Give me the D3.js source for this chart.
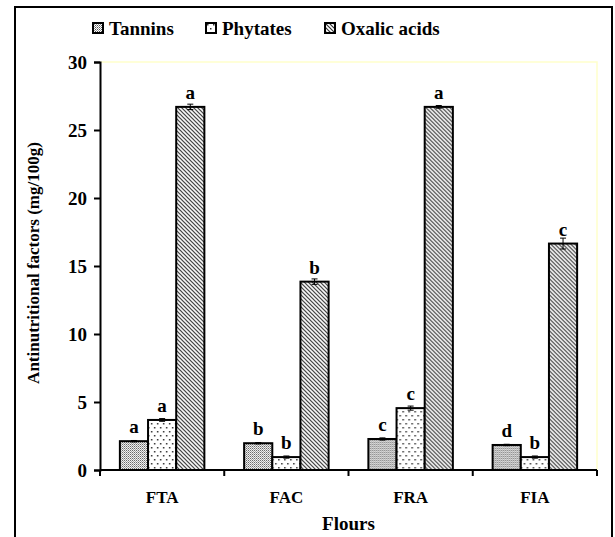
<!DOCTYPE html>
<html>
<head>
<meta charset="utf-8">
<script src="https://cdn.jsdelivr.net/npm/d3@7"></script>
<style>
  body { margin: 0; background: #fff; }
  svg text { font-family: "Times New Roman", "Liberation Serif", "DejaVu Serif", serif; font-weight: bold; fill: #000; }
</style>
</head>
<body>
<svg id="chart" width="615" height="537"></svg>
<script>
const flours = ["FTA", "FAC", "FRA", "FIA"];
const seriesNames = ["Tannins", "Phytates", "Oxalic acids"];
const tannins = [2.12, 1.97, 2.28, 1.84];
const phytates = [3.68, 0.95, 4.55, 0.95];
const oxalic = [26.7, 13.85, 26.7, 16.65];
const tanninsErr = [0.05, 0.05, 0.08, 0.05];
const phytatesErr = [0.1, 0.08, 0.15, 0.08];
const oxalicErr = [0.2, 0.2, 0.1, 0.4];
const tanninsLetters = ["a", "b", "c", "d"];
const phytatesLetters = ["a", "b", "c", "b"];
const oxalicLetters = ["a", "b", "a", "c"];
const yTicks = [0, 5, 10, 15, 20, 25, 30];

const svg = d3.select("#chart");
const margin = { left: 100, right: 18, top: 62, bottom: 67 };
const width = 615 - margin.left - margin.right;
const height = 537 - margin.top - margin.bottom;

// outer frame (bottom edge falls outside the picture)
svg.append("rect")
  .attr("x", 15).attr("y", 7)
  .attr("width", 597).attr("height", 560)
  .attr("fill", "none").attr("stroke", "#000").attr("stroke-width", 2);

// patterns
const defs = svg.append("defs");
const pDense = defs.append("pattern").attr("id", "dense")
  .attr("patternUnits", "userSpaceOnUse").attr("width", 2).attr("height", 2);
pDense.append("rect").attr("width", 2).attr("height", 2).attr("fill", "#fff");
pDense.append("rect").attr("width", 1).attr("height", 1).attr("fill", "#555");
pDense.append("rect").attr("x", 1).attr("y", 1).attr("width", 1).attr("height", 1).attr("fill", "#999");

const pSparse = defs.append("pattern").attr("id", "sparse")
  .attr("patternUnits", "userSpaceOnUse").attr("width", 6).attr("height", 8);
pSparse.append("rect").attr("width", 6).attr("height", 8).attr("fill", "#fff");
pSparse.append("rect").attr("x", 1).attr("y", 1).attr("width", 1.5).attr("height", 1.5).attr("fill", "#333");
pSparse.append("rect").attr("x", 4).attr("y", 5).attr("width", 1.5).attr("height", 1.5).attr("fill", "#333");

const pDiag = defs.append("pattern").attr("id", "diag")
  .attr("patternUnits", "userSpaceOnUse").attr("width", 4).attr("height", 4);
pDiag.append("rect").attr("width", 4).attr("height", 4).attr("fill", "#fff");
pDiag.append("path").attr("d", "M-1,-1 L5,5 M-1,3 L1,5 M3,-1 L5,1")
  .attr("stroke", "#333").attr("stroke-width", 1.2);

const fills = ["url(#dense)", "url(#sparse)", "url(#diag)"];

const g = svg.append("g").attr("transform", `translate(${margin.left},${margin.top})`);

const x0 = d3.scaleBand().domain(flours).range([0, width]).paddingInner(0.32).paddingOuter(0.16);
const x1 = d3.scaleBand().domain(seriesNames).range([0, x0.bandwidth()]);
const y = d3.scaleLinear().domain([0, 30]).range([height, 0]);

// plot area border (light yellow)
g.append("path")
  .attr("d", `M0,0 H${width} V${height}`)
  .attr("fill", "none").attr("stroke", "#ffffcc").attr("stroke-width", 1.5);

const rows = flours.map((f, i) => ({
  flour: f,
  vals: [
    { s: 0, v: tannins[i], e: tanninsErr[i], l: tanninsLetters[i] },
    { s: 1, v: phytates[i], e: phytatesErr[i], l: phytatesLetters[i] },
    { s: 2, v: oxalic[i], e: oxalicErr[i], l: oxalicLetters[i] }
  ]
}));

const grp = g.selectAll(".grp").data(rows).join("g")
  .attr("transform", d => `translate(${x0(d.flour)},0)`);

grp.selectAll("rect").data(d => d.vals).join("rect")
  .attr("x", d => x1(seriesNames[d.s]))
  .attr("y", d => y(d.v))
  .attr("width", x1.bandwidth())
  .attr("height", d => y(0) - y(d.v))
  .attr("fill", d => fills[d.s])
  .attr("stroke", "#000").attr("stroke-width", 2);

// error bars
grp.selectAll(".err").data(d => d.vals).join("path")
  .attr("class", "err")
  .attr("d", d => {
    const cx = x1(seriesNames[d.s]) + x1.bandwidth() / 2;
    const t = y(d.v + d.e), b = y(d.v - d.e);
    return `M${cx},${t} V${b} M${cx - 3},${t} H${cx + 3} M${cx - 3},${b} H${cx + 3}`;
  })
  .attr("stroke", "#000").attr("stroke-width", 1).attr("fill", "none");

// letters
grp.selectAll(".lbl").data(d => d.vals).join("text")
  .attr("class", "lbl")
  .attr("x", d => x1(seriesNames[d.s]) + x1.bandwidth() / 2)
  .attr("y", d => y(d.v) - 8)
  .attr("text-anchor", "middle")
  .attr("font-size", 19)
  .text(d => d.l);

// y axis
const yAxis = g.append("g").call(d3.axisLeft(y).tickValues(yTicks).tickSize(6).tickPadding(7));
yAxis.attr("font-family", null);
yAxis.selectAll("text").attr("font-size", 19);
yAxis.select(".domain").attr("stroke-width", 2);
yAxis.selectAll(".tick line").attr("stroke-width", 2);

// x axis
const xAxis = g.append("g").attr("transform", `translate(0,${height})`);
xAxis.append("line").attr("x1", 0).attr("x2", width).attr("stroke", "#000").attr("stroke-width", 2);
const bounds = d3.range(flours.length + 1).map(i => i * x0.step());
xAxis.selectAll(".xt").data(bounds).join("line")
  .attr("x1", d => d).attr("x2", d => d).attr("y1", 0).attr("y2", 6)
  .attr("stroke", "#000").attr("stroke-width", 2);
xAxis.selectAll(".xl").data(flours).join("text")
  .attr("x", d => x0(d) + x0.bandwidth() / 2)
  .attr("y", 33)
  .attr("text-anchor", "middle").attr("font-size", 17)
  .text(d => d);

// axis titles
svg.append("text")
  .attr("x", margin.left + width / 2).attr("y", 530)
  .attr("text-anchor", "middle").attr("font-size", 19)
  .text("Flours");
svg.append("text")
  .attr("transform", `translate(39,${margin.top + height / 2 - 3}) rotate(-90)`)
  .attr("text-anchor", "middle").attr("font-size", 17)
  .text("Antinutritional factors (mg/100g)");

// legend
const legendX = [93, 206, 325];
const leg = svg.selectAll(".leg").data(seriesNames).join("g")
  .attr("transform", (d, i) => `translate(${legendX[i]},23)`);
leg.append("rect").attr("width", 10).attr("height", 10)
  .attr("fill", (d, i) => fills[i]).attr("stroke", "#000").attr("stroke-width", 2);
leg.append("text").attr("x", 16).attr("y", 12).attr("font-size", 19).text(d => d);
</script>
</body>
</html>
